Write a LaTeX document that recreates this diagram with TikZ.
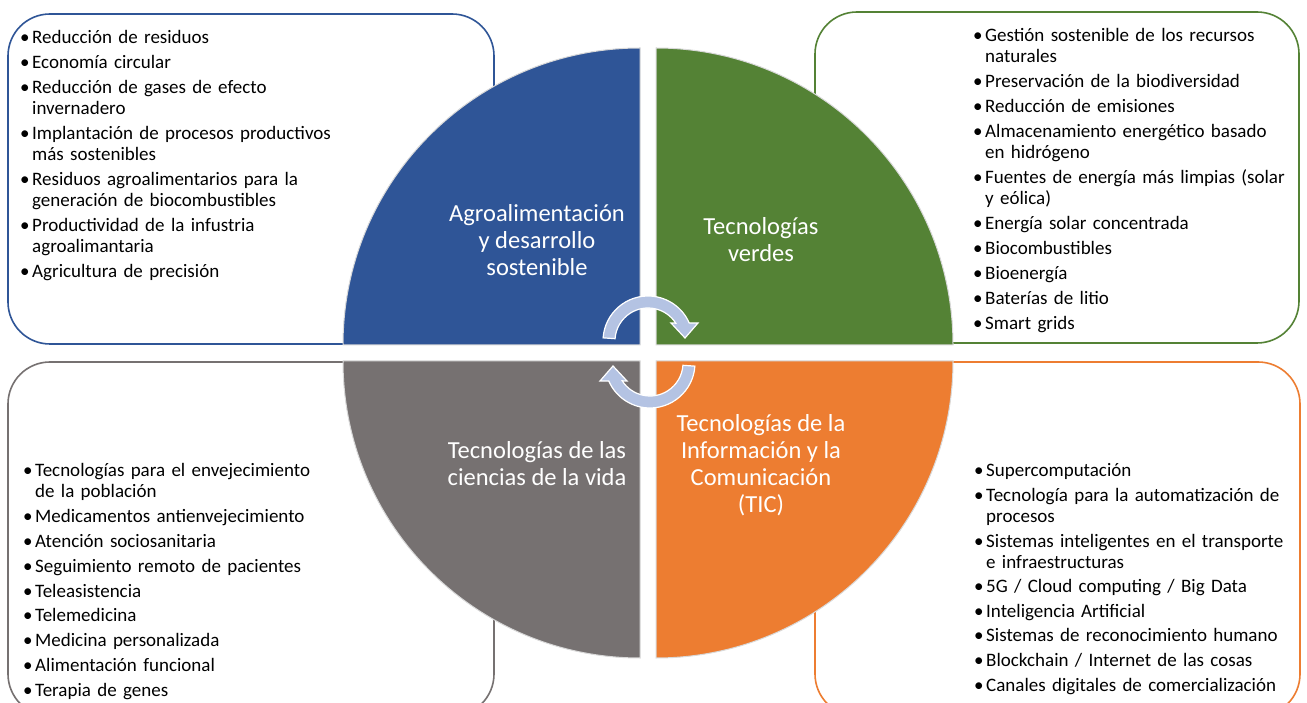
\documentclass[tikz,border=0pt]{standalone}
\usepackage{fontspec}
\setmainfont{Carlito}
\definecolor{cblue}{HTML}{2F5597}
\definecolor{cgreen}{HTML}{548235}
\definecolor{cgray}{HTML}{767171}
\definecolor{corange}{HTML}{ED7D31}
\definecolor{carrow}{HTML}{B4C3E3}
\newlength\bulw
\setlength\bulw{12pt}
\newcommand{\itm}[1]{\hangindent=\bulw\hangafter=1\noindent\makebox[\bulw][l]{•}#1\par}
\tikzset{
  listbox/.style={draw=#1, line width=1.6pt, fill=white, rounded corners=42pt},
  quad/.style={fill=#1, draw=black!15, line width=1pt},
  qlabel/.style={text=white, align=center, font=\fontsize{24.5}{27}\selectfont, inner sep=0pt},
  listtext/.style={anchor=base west, text width=340pt, inner sep=0pt, font=\fontsize{19}{21}\selectfont},
  cyclearrow/.style={fill=carrow, draw=white, line width=1.2pt, line join=miter},
}
\begin{document}
\begin{tikzpicture}[x=1pt,y=1pt]
\useasboundingbox (0,0) rectangle (1307,702);
\fill[white] (0,0) rectangle (1307,702);
\begin{scope}
\clip (0,0) rectangle (1307,702);
% list boxes
\draw[listbox=cblue] (8,358) rectangle (494,688);
\draw[listbox=cgreen] (815,359) rectangle (1299,690);
\draw[listbox=cgray] (8,-14) rectangle (494,340);
\draw[listbox=corange] (815,-14) rectangle (1300,340);
\end{scope}
% quadrants
\draw[quad=cblue] (640,357) -- (343,357) arc[start angle=180,end angle=90,radius=297pt] -- cycle;
\draw[quad=cgreen] (656,357) -- (656,654) arc[start angle=90,end angle=0,radius=297pt] -- cycle;
\draw[quad=cgray] (640,341) -- (343,341) arc[start angle=180,end angle=270,radius=297pt] -- cycle;
\draw[quad=corange] (656,341) -- (953,341) arc[start angle=0,end angle=-90,radius=297pt] -- cycle;
% cycle arrows
\begin{scope}[shift={(648,361)}]
\draw[cyclearrow] (176:45pt) arc[start angle=176,end angle=23.6,radius=45pt] -- (50,18) -- (37,3) -- (23,18) -- (32.7:33pt) arc[start angle=32.7,end angle=176,radius=33pt] -- cycle;
\end{scope}
\begin{scope}[shift={(650,339)},rotate=180]
\draw[cyclearrow] (176:45pt) arc[start angle=176,end angle=23.6,radius=45pt] -- (50,18) -- (37,3) -- (23,18) -- (32.7:33pt) arc[start angle=32.7,end angle=176,radius=33pt] -- cycle;
\end{scope}
% quadrant labels
\node[qlabel] (lagro) at (537,462) {Agroalimentación\\y desarrollo\\sostenible};
\node[qlabel] (lverdes) at (761,462) {Tecnologías\\verdes};
\node[qlabel] (lvida) at (537,238) {Tecnologías de las\\ciencias de la vida};
\node[qlabel] (ltic) at (761,237) {Tecnologías de la\\Información y la\\Comunicación\\(TIC)};
% lists
\node[listtext] (tagro) at (20,658) {\setlength{\parskip}{4pt}%
\itm{Reducción de residuos}
\itm{Economía circular}
\itm{Reducción de gases de efecto\newline invernadero}
\itm{Implantación de procesos productivos\newline más sostenibles}
\itm{Residuos agroalimentarios para la\newline generación de biocombustibles}
\itm{Productividad de la infustria\newline agroalimantaria}
\itm{Agricultura de precisión}};
\node[listtext] (tverdes) at (973,660) {\setlength{\parskip}{4pt}%
\itm{Gestión sostenible de los recursos\newline naturales}
\itm{Preservación de la biodiversidad}
\itm{Reducción de emisiones}
\itm{Almacenamiento energético basado\newline en hidrógeno}
\itm{Fuentes de energía más limpias (solar\newline y eólica)}
\itm{Energía solar concentrada}
\itm{Biocombustibles}
\itm{Bioenergía}
\itm{Baterías de litio}
\itm{Smart grids}};
\node[listtext] (tvida) at (23,225) {\setlength{\parskip}{3.8pt}%
\itm{Tecnologías para el envejecimiento\newline de la población}
\itm{Medicamentos antienvejecimiento}
\itm{Atención sociosanitaria}
\itm{Seguimiento remoto de pacientes}
\itm{Teleasistencia}
\itm{Telemedicina}
\itm{Medicina personalizada}
\itm{Alimentación funcional}
\itm{Terapia de genes}};
\node[listtext] (ttic) at (974,225) {\setlength{\parskip}{3.6pt}%
\itm{Supercomputación}
\itm{Tecnología para la automatización de\newline procesos}
\itm{Sistemas inteligentes en el transporte\newline e infraestructuras}
\itm{5G / Cloud computing / Big Data}
\itm{Inteligencia Artificial}
\itm{Sistemas de reconocimiento humano}
\itm{Blockchain / Internet de las cosas}
\itm{Canales digitales de comercialización}};
\end{tikzpicture}
\end{document}
